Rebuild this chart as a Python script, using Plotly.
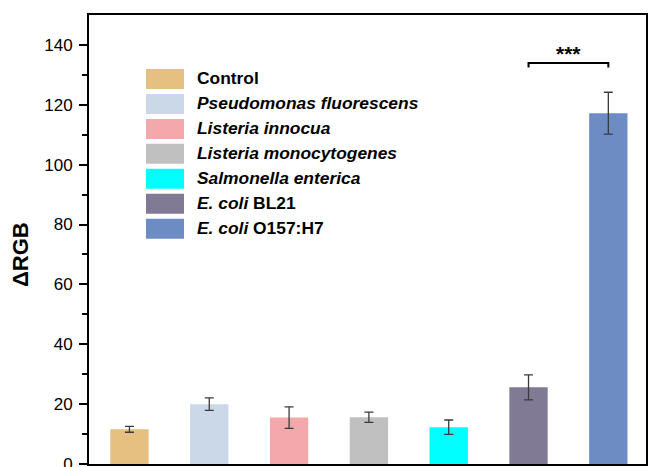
import plotly.graph_objects as go

# Bacterial strains tested and measured colour change (ΔRGB)
strains = [
    "Control",
    "Pseudomonas fluorescens",
    "Listeria innocua",
    "Listeria monocytogenes",
    "Salmonella enterica",
    "E. coli BL21",
    "E. coli O157:H7",
]
legend_labels = [
    "<b>Control</b>",
    "<b><i>Pseudomonas fluorescens</i></b>",
    "<b><i>Listeria innocua</i></b>",
    "<b><i>Listeria monocytogenes</i></b>",
    "<b><i>Salmonella enterica</i></b>",
    "<b><i>E. coli</i> BL21</b>",
    "<b><i>E. coli</i> O157:H7</b>",
]
delta_rgb = [11.6, 20.0, 15.5, 15.6, 12.3, 25.6, 117.2]
delta_err = [1.0, 2.1, 3.6, 1.7, 2.4, 4.2, 7.0]
colors = ["#E5C080", "#CBD8E8", "#F5A8AC", "#C0C0C0", "#00FFFF", "#807A95", "#6E8CC4"]

# Significance bracket between E. coli BL21 and E. coli O157:H7
sig_pair = (5, 6)
sig_level = 134
sig_label = "***"

FONT = "Liberation Sans, Arial, sans-serif"

fig = go.Figure()
for i, (name, val, err, col) in enumerate(zip(strains, delta_rgb, delta_err, colors)):
    fig.add_trace(go.Bar(
        x=[i], y=[val], name=name, width=0.48,
        marker=dict(color=col, line=dict(width=0)),
        error_y=dict(type="data", array=[err], visible=True,
                     color="#3a3a3a", thickness=1.3, width=4.5),
        showlegend=False,
    ))

shapes = []
annotations = []

# Bracket for the significance marker
x0, x1 = sig_pair
shapes.append(dict(
    type="path", xref="x", yref="y",
    path=f"M {x0},{sig_level-1.5} L {x0},{sig_level} L {x1},{sig_level} L {x1},{sig_level-1.5}",
    line=dict(color="black", width=2),
))
annotations.append(dict(
    x=(x0 + x1) / 2, y=sig_level + 3.2, xref="x", yref="y",
    text=f"<b>{sig_label}</b>", showarrow=False,
    font=dict(family=FONT, size=21, color="black"),
    yanchor="middle", xanchor="center",
))

# Legend drawn with swatches in pixel-like paper coordinates
W, H = 648, 467
ML, MR, MT, MB = 89, 2, 15, 3
pw, ph = W - ML - MR, H - MT - MB


def px_x(px):
    return (px - ML) / pw


def px_y(py):
    return 1 - (py - MT) / ph


row0, row_step = 79, 24.95
for i, (lab, col) in enumerate(zip(legend_labels, colors)):
    cy = row0 + i * row_step
    shapes.append(dict(
        type="rect", xref="paper", yref="paper",
        x0=px_x(146), x1=px_x(184), y0=px_y(cy + 10), y1=px_y(cy - 10),
        fillcolor=col, line=dict(width=0),
    ))
    annotations.append(dict(
        x=px_x(195), y=px_y(cy - 1), xref="paper", yref="paper",
        text=lab, showarrow=False, xanchor="left", yanchor="middle",
        font=dict(family=FONT, size=17.4, color="black"),
    ))

# Y-axis title
annotations.append(dict(
    x=px_x(20), y=px_y(255), xref="paper", yref="paper",
    text="<b>ΔRGB</b>", showarrow=False, textangle=-90,
    xanchor="center", yanchor="middle",
    font=dict(family=FONT, size=22, color="black"),
))

fig.update_layout(
    width=W, height=H,
    margin=dict(l=ML, r=MR, t=MT, b=MB, pad=0, autoexpand=False),
    plot_bgcolor="white", paper_bgcolor="white",
    bargap=0.52,
    shapes=shapes, annotations=annotations,
    xaxis=dict(
        range=[-0.507, 6.472], showgrid=False, zeroline=False,
        showticklabels=False, ticks="", automargin=False,
        showline=True, linecolor="black", linewidth=2, mirror=True,
    ),
    yaxis=dict(
        range=[0, 150], showgrid=False, zeroline=False, automargin=False,
        tickvals=[0, 20, 40, 60, 80, 100, 120, 140],
        ticks="outside", ticklen=8, tickwidth=2, tickcolor="black",
        minor=dict(tickvals=[10, 30, 50, 70, 90, 110, 130], ticks="outside",
                   ticklen=5, tickwidth=2, tickcolor="black"),
        tickfont=dict(family=FONT, size=17, color="black"),
        ticklabelstandoff=3, ticklabeloverflow="allow",
        showline=True, linecolor="black", linewidth=2, mirror=True,
    ),
)

fig.write_html("out.html")
